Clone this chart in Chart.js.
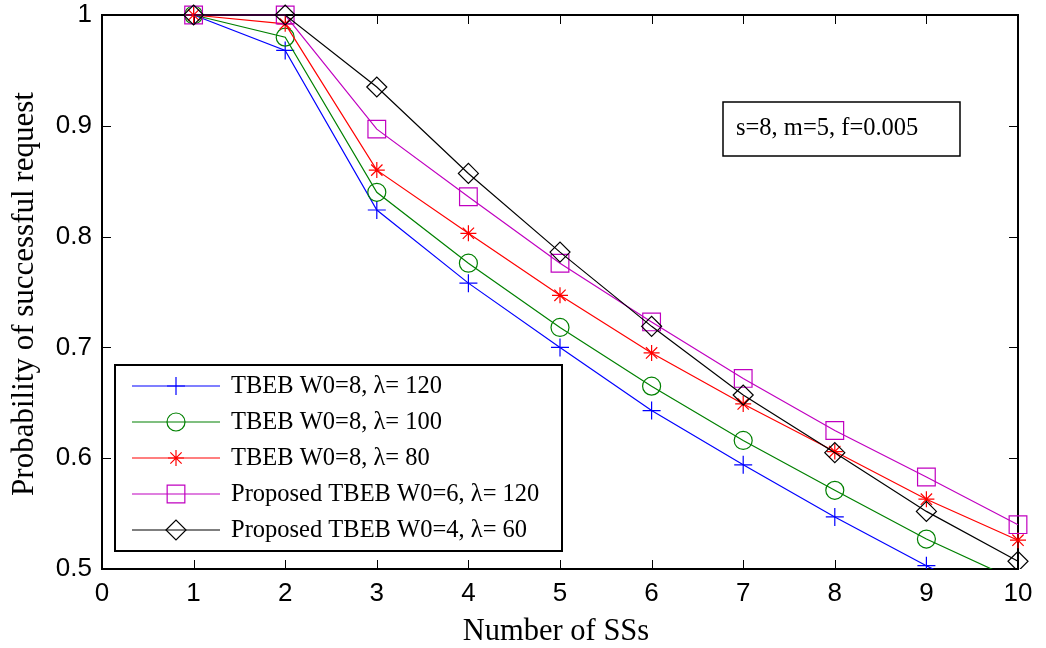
<!DOCTYPE html>
<html>
<head>
<meta charset="utf-8">
<title>Probability of successful request</title>
<script src="https://cdn.jsdelivr.net/npm/chart.js@4/dist/chart.umd.min.js"></script>
<style>
  html, body { margin: 0; padding: 0; background: #fff; }
  #wrap { width: 1046px; height: 648px; }
</style>
</head>
<body>
<div id="wrap"><canvas id="grafico" width="1046" height="648"></canvas></div>
<script>
// number of SSs on the x axis
const numSS = [1, 2, 3, 4, 5, 6, 7, 8, 9, 10];

// probability of successful request per curve
const tbeb120 = [1.0, 0.968, 0.824, 0.758, 0.700, 0.643, 0.594, 0.547, 0.503, 0.461];
const tbeb100 = [1.0, 0.980, 0.840, 0.776, 0.718, 0.665, 0.616, 0.571, 0.527, 0.489];
const tbeb80 = [1.0, 0.992, 0.860, 0.803, 0.747, 0.695, 0.649, 0.606, 0.563, 0.526];
const propW6 = [1.0, 1.0, 0.897, 0.836, 0.776, 0.723, 0.672, 0.625, 0.583, 0.540];
const propW4 = [1.0, 1.0, 0.935, 0.857, 0.786, 0.719, 0.657, 0.605, 0.552, 0.507];

const seriesNames = [
  'TBEB W0=8, \u03bb= 120',
  'TBEB W0=8, \u03bb= 100',
  'TBEB W0=8, \u03bb= 80',
  'Proposed TBEB W0=6, \u03bb= 120',
  'Proposed TBEB W0=4, \u03bb= 60'
];

const xTicks = [0, 1, 2, 3, 4, 5, 6, 7, 8, 9, 10];
const yTicks = [0.5, 0.6, 0.7, 0.8, 0.9, 1];

const paramText = 's=8, m=5, f=0.005';
const xTitle = 'Number of SSs';
const yTitle = 'Probability of successful request';

const SERIF = '"Liberation Serif", "Times New Roman", serif';
const SANS = '"Liberation Sans", Arial, sans-serif';

const estilos = [
  { color: '#0000ff', style: 'cross', radius: 9 },
  { color: '#008000', style: 'circle', radius: 9 },
  { color: '#ff0000', style: 'star', radius: 8 },
  { color: '#c000c0', style: 'rect', radius: 12.5 },
  { color: '#000000', style: 'rectRot', radius: 10 }
];

const valores = [tbeb120, tbeb100, tbeb80, propW6, propW4];

const datasets = valores.map((serie, i) => ({
  label: seriesNames[i],
  data: numSS.map((x, j) => ({ x: x, y: serie[j] })),
  borderColor: estilos[i].color,
  backgroundColor: 'rgba(0,0,0,0)',
  borderWidth: 1.2,
  pointStyle: estilos[i].style,
  pointRadius: estilos[i].radius,
  pointBorderWidth: 1.2,
  pointBorderColor: estilos[i].color,
  pointBackgroundColor: 'rgba(0,0,0,0)',
  tension: 0,
  order: valores.length - i,
  clip: { left: 0, top: 15, right: 15, bottom: 0 }
}));

// axes box, inward ticks and axis titles
const marco = {
  id: 'marco',
  beforeDatasetsDraw(chart) {
    const ctx = chart.ctx;
    const a = chart.chartArea;
    const sx = chart.scales.x;
    const sy = chart.scales.y;
    ctx.save();
    ctx.strokeStyle = '#000';
    ctx.lineWidth = 1;
    ctx.beginPath();
    xTicks.slice(1, -1).forEach(v => {
      const px = Math.round(sx.getPixelForValue(v)) + 0.5;
      ctx.moveTo(px, a.bottom); ctx.lineTo(px, a.bottom - 9);
      ctx.moveTo(px, a.top); ctx.lineTo(px, a.top + 9);
    });
    yTicks.slice(1, -1).forEach(v => {
      const py = Math.round(sy.getPixelForValue(v)) + 0.5;
      ctx.moveTo(a.left, py); ctx.lineTo(a.left + 9, py);
      ctx.moveTo(a.right, py); ctx.lineTo(a.right - 9, py);
    });
    ctx.stroke();
    ctx.lineWidth = 2;
    ctx.strokeRect(a.left, a.top, a.right - a.left, a.bottom - a.top);

    ctx.fillStyle = '#000';
    ctx.textAlign = 'center';
    ctx.textBaseline = 'alphabetic';
    ctx.font = '30.5px ' + SERIF;
    ctx.fillText(xTitle, 556, 640);
    ctx.font = '31px ' + SERIF;
    ctx.translate(33, 294);
    ctx.rotate(-Math.PI / 2);
    ctx.fillText(yTitle, 0, 0);
    ctx.restore();
  },
  afterDatasetsDraw(chart) {
    const ctx = chart.ctx;
    ctx.save();

    // parameter box
    ctx.fillStyle = '#fff';
    ctx.fillRect(723, 102, 237, 54);
    ctx.strokeStyle = '#000';
    ctx.lineWidth = 1.5;
    ctx.strokeRect(723, 102, 237, 54);
    ctx.fillStyle = '#000';
    ctx.font = '24.5px ' + SERIF;
    ctx.textAlign = 'left';
    ctx.textBaseline = 'middle';
    ctx.fillText(paramText, 736, 129);

    // legend
    ctx.fillStyle = '#fff';
    ctx.fillRect(115, 365, 447, 186);
    ctx.lineWidth = 2;
    ctx.strokeRect(115, 365, 447, 186);
    seriesNames.forEach((name, i) => {
      const y = 386 + i * 36;
      const e = estilos[i];
      ctx.strokeStyle = e.color;
      ctx.lineWidth = 1.2;
      ctx.beginPath();
      ctx.moveTo(132, y); ctx.lineTo(220, y);
      ctx.stroke();
      ctx.fillStyle = 'rgba(0,0,0,0)';
      Chart.helpers.drawPoint(ctx, { pointStyle: e.style, radius: e.radius, rotation: 0, borderWidth: 1.2 }, 176, y);
      ctx.fillStyle = '#000';
      ctx.fillText(name, 231, y + 1);
    });
    ctx.restore();
  }
};

// keep tick label overflow from shrinking the plot box
const sinRelleno = s => {
  s.paddingTop = 0;
  s.paddingBottom = 0;
  s.paddingLeft = 0;
  s.paddingRight = 0;
};

new Chart(document.getElementById('grafico'), {
  type: 'line',
  data: { datasets: datasets },
  options: {
    responsive: false,
    animation: false,
    devicePixelRatio: 1,
    layout: { padding: { left: 0, top: 15, right: 28, bottom: 0 } },
    plugins: {
      legend: { display: false },
      tooltip: { enabled: false }
    },
    scales: {
      x: {
        type: 'linear',
        min: 0,
        max: 10,
        afterBuildTicks: s => { s.ticks = xTicks.map(v => ({ value: v })); },
        afterFit: s => { s.height = 79; sinRelleno(s); },
        grid: { display: false, drawTicks: false },
        border: { display: false },
        ticks: {
          padding: 9,
          color: '#000',
          font: { family: SANS, size: 26 },
          maxRotation: 0
        }
      },
      y: {
        type: 'linear',
        min: 0.5,
        max: 1,
        afterBuildTicks: s => { s.ticks = yTicks.map(v => ({ value: v })); },
        afterFit: s => { s.width = 102; sinRelleno(s); },
        grid: { display: false, drawTicks: false },
        border: { display: false },
        ticks: {
          padding: 10,
          color: '#000',
          font: { family: SANS, size: 26 },
          callback: v => String(v)
        }
      }
    }
  },
  plugins: [marco]
});
</script>
</body>
</html>
